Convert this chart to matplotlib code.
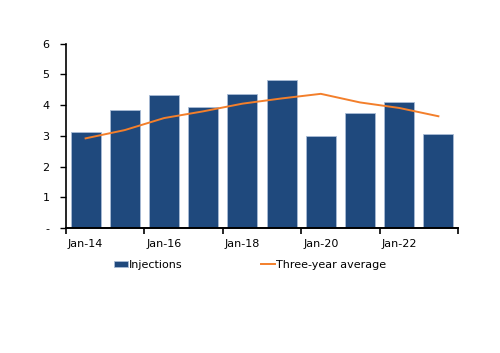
import numpy as np
import matplotlib
matplotlib.use("Agg")
import matplotlib.pyplot as plt

years = ["Jan-14", "Jan-15", "Jan-16", "Jan-17", "Jan-18", "Jan-19",
         "Jan-20", "Jan-21", "Jan-22", "Jan-23"]
injections = [3.13, 3.84, 4.32, 3.93, 4.38, 4.83, 3.01, 3.76, 4.12, 3.07]
three_year_avg = [2.92, 3.19, 3.58, 3.80, 4.05, 4.22, 4.37, 4.09, 3.91, 3.64]
ytick_labels = ["-", "1", "2", "3", "4", "5", "6"]

plt.rcParams['font.family'] = ['DejaVu Sans']
fig = plt.figure(figsize=(5.0, 3.53), dpi=100)
ax = fig.add_axes([0.132, 0.354, 0.784, 0.522])

x = np.arange(len(years))
bars = ax.bar(x, injections, width=0.77, color="#1f497d", edgecolor="#a9bcd6",
              linewidth=0.6, label="Injections", zorder=2)
line, = ax.plot(x, three_year_avg, color="#f37f2b", lw=1.4,
                label="Three-year average", zorder=3)

ax.set_xlim(-0.5, len(years) - 0.5)
ax.set_ylim(0, 6)
ax.set_yticks(range(7))
ax.set_yticklabels(ytick_labels)

# ticks at category boundaries, labels under every other bar
ax.set_xticks(np.arange(-0.5, len(years), 2))
ax.set_xticklabels([])
ax.set_xticks(x[::2], minor=True)
ax.set_xticklabels(years[::2], minor=True)
ax.tick_params(axis="x", which="minor", length=0, pad=8, labelsize=8)
ax.tick_params(axis="x", which="major", direction="out", length=4, width=1.2)
ax.tick_params(axis="y", direction="out", length=4, width=1, labelsize=8, pad=8)

for s in ["top", "right"]:
    ax.spines[s].set_visible(False)
ax.spines["left"].set_linewidth(1.2)
ax.spines["bottom"].set_linewidth(1.4)

fig.legend([bars, line], ["Injections", "Three-year average"],
           loc="center", bbox_to_anchor=(0.5, 0.25), ncol=2, frameon=False,
           fontsize=8, handlelength=1.3, handletextpad=0.1, columnspacing=7,
           handleheight=0.5)

fig.savefig("out.png", dpi=100)
